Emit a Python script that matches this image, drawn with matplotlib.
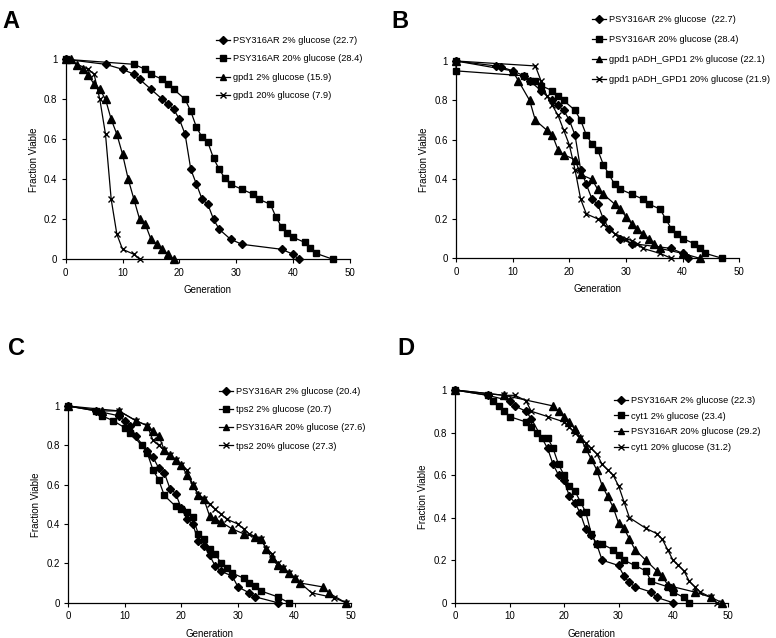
import matplotlib
matplotlib.use("Agg")
import matplotlib.pyplot as plt

plt.rcParams['font.family'] = ['Liberation Sans', 'DejaVu Sans']

W, H = 776, 638

# ---------------- data ----------------
# Panel A
A_wt2_x = [0, 7, 10, 12, 13, 15, 17, 18, 19, 20, 21, 22, 23, 24, 25, 26, 27, 29, 31, 38, 40, 41]
A_wt2_y = [1, 0.975, 0.95, 0.925, 0.90, 0.85, 0.80, 0.775, 0.75, 0.70, 0.625, 0.45, 0.375, 0.30, 0.275, 0.20, 0.15, 0.10, 0.075, 0.05, 0.025, 0]
A_wt20_x = [0, 12, 14, 15, 17, 18, 19, 21, 22, 23, 24, 25, 26, 27, 28, 29, 31, 33, 34, 36, 37, 38, 39, 40, 42, 43, 44, 47]
A_wt20_y = [1, 0.975, 0.95, 0.925, 0.90, 0.875, 0.85, 0.80, 0.74, 0.66, 0.61, 0.585, 0.505, 0.45, 0.405, 0.375, 0.35, 0.325, 0.30, 0.275, 0.21, 0.16, 0.13, 0.11, 0.085, 0.055, 0.03, 0]
A_gpd2_x = [0, 1, 2, 3, 4, 5, 6, 7, 8, 9, 10, 11, 12, 13, 14, 15, 16, 17, 18, 19]
A_gpd2_y = [1, 1, 0.97, 0.95, 0.92, 0.875, 0.85, 0.80, 0.70, 0.625, 0.525, 0.40, 0.30, 0.20, 0.175, 0.10, 0.075, 0.05, 0.025, 0]
A_gpd20_x = [0, 4, 5, 6, 7, 8, 9, 10, 12, 13]
A_gpd20_y = [1, 0.95, 0.925, 0.80, 0.625, 0.30, 0.125, 0.05, 0.025, 0]
A_labels = ["PSY316AR 2% glucose (22.7)", "PSY316AR 20% glucose (28.4)",
            "gpd1 2% glucose (15.9)", "gpd1 20% glucose (7.9)"]

# Panel B
B_wt2_x = [0, 7, 8, 10, 12, 13, 15, 17, 18, 19, 20, 21, 22, 23, 24, 25, 26, 27, 29, 31, 38, 40, 41]
B_wt2_y = [1, 0.975, 0.97, 0.95, 0.925, 0.90, 0.85, 0.80, 0.775, 0.75, 0.70, 0.625, 0.45, 0.375, 0.30, 0.275, 0.20, 0.15, 0.10, 0.075, 0.05, 0.025, 0]
B_wt20_x = [0, 0, 12, 13, 14, 15, 17, 18, 19, 21, 22, 23, 24, 25, 26, 27, 28, 29, 31, 33, 34, 36, 37, 38, 39, 40, 42, 43, 44, 47]
B_wt20_y = [1, 0.95, 0.925, 0.90, 0.90, 0.875, 0.85, 0.825, 0.80, 0.75, 0.70, 0.625, 0.58, 0.55, 0.475, 0.425, 0.375, 0.35, 0.325, 0.30, 0.275, 0.25, 0.20, 0.15, 0.125, 0.10, 0.075, 0.05, 0.025, 0]
B_res2_x = [0, 10, 11, 13, 14, 16, 17, 18, 19, 21, 22, 24, 25, 26, 28, 29, 30, 31, 32, 33, 34, 35, 36, 40, 43]
B_res2_y = [1, 0.95, 0.90, 0.80, 0.70, 0.65, 0.625, 0.55, 0.525, 0.50, 0.425, 0.40, 0.35, 0.325, 0.275, 0.25, 0.21, 0.175, 0.15, 0.125, 0.10, 0.075, 0.05, 0.025, 0]
B_res20_x = [0, 14, 15, 16, 17, 18, 19, 20, 21, 22, 23, 25, 26, 28, 30, 31, 32, 33, 36, 38]
B_res20_y = [1, 0.975, 0.90, 0.825, 0.775, 0.725, 0.65, 0.575, 0.45, 0.30, 0.225, 0.20, 0.175, 0.125, 0.10, 0.09, 0.075, 0.05, 0.025, 0]
B_labels = ["PSY316AR 2% glucose  (22.7)", "PSY316AR 20% glucose (28.4)",
            "gpd1 pADH_GPD1 2% glucose (22.1)", "gpd1 pADH_GPD1 20% glucose (21.9)"]

# Panel C
C_wt2_x = [0, 5, 9, 10, 11, 12, 14, 15, 16, 17, 18, 19, 20, 21, 22, 23, 24, 25, 26, 27, 29, 30, 32, 33, 37]
C_wt2_y = [1, 0.975, 0.95, 0.925, 0.90, 0.845, 0.77, 0.74, 0.685, 0.66, 0.58, 0.555, 0.48, 0.425, 0.40, 0.315, 0.29, 0.24, 0.185, 0.16, 0.135, 0.08, 0.05, 0.03, 0]
C_tps2_x = [0, 5, 6, 8, 10, 11, 13, 14, 15, 16, 17, 19, 20, 21, 22, 23, 24, 25, 26, 27, 28, 29, 31, 32, 33, 34, 37, 39]
C_tps2_y = [1, 0.975, 0.95, 0.925, 0.89, 0.865, 0.80, 0.76, 0.675, 0.625, 0.545, 0.49, 0.475, 0.46, 0.435, 0.35, 0.325, 0.275, 0.25, 0.20, 0.175, 0.15, 0.125, 0.10, 0.085, 0.06, 0.03, 0]
C_wt20_x = [0, 6, 9, 12, 14, 15, 16, 17, 18, 19, 20, 21, 22, 23, 24, 25, 26, 27, 29, 31, 33, 34, 35, 36, 37, 38, 39, 40, 41, 45, 46, 49]
C_wt20_y = [1, 0.975, 0.975, 0.925, 0.90, 0.875, 0.85, 0.775, 0.75, 0.725, 0.70, 0.65, 0.60, 0.55, 0.525, 0.44, 0.425, 0.41, 0.375, 0.35, 0.335, 0.325, 0.275, 0.225, 0.19, 0.175, 0.15, 0.125, 0.10, 0.08, 0.05, 0]
C_tps20_x = [0, 9, 12, 14, 15, 16, 17, 18, 19, 20, 21, 22, 23, 24, 25, 26, 27, 28, 30, 31, 32, 34, 35, 36, 37, 38, 39, 40, 41, 43, 47, 49]
C_tps20_y = [1, 0.975, 0.925, 0.90, 0.825, 0.80, 0.775, 0.75, 0.725, 0.70, 0.675, 0.60, 0.55, 0.525, 0.50, 0.475, 0.45, 0.425, 0.40, 0.375, 0.35, 0.325, 0.275, 0.25, 0.20, 0.175, 0.15, 0.125, 0.10, 0.05, 0.025, 0]
C_labels = ["PSY316AR 2% glucose (20.4)", "tps2 2% glucose (20.7)",
            "PSY316AR 20% glucose (27.6)", "tps2 20% glucose (27.3)"]

# Panel D
D_wt2_x = [0, 6, 10, 11, 13, 14, 17, 18, 19, 20, 21, 22, 23, 24, 25, 26, 27, 30, 31, 32, 33, 36, 37, 40]
D_wt2_y = [1, 0.975, 0.95, 0.925, 0.90, 0.865, 0.725, 0.65, 0.60, 0.575, 0.50, 0.47, 0.42, 0.345, 0.32, 0.275, 0.20, 0.175, 0.125, 0.095, 0.075, 0.05, 0.025, 0]
D_cyt2_x = [0, 6, 7, 8, 9, 10, 13, 14, 15, 16, 17, 18, 19, 20, 21, 22, 23, 24, 25, 26, 27, 29, 30, 31, 33, 35, 36, 39, 40, 42, 43]
D_cyt2_y = [1, 0.975, 0.95, 0.925, 0.90, 0.875, 0.85, 0.825, 0.80, 0.775, 0.775, 0.725, 0.65, 0.60, 0.55, 0.525, 0.475, 0.425, 0.325, 0.275, 0.275, 0.25, 0.225, 0.20, 0.175, 0.15, 0.10, 0.075, 0.05, 0.025, 0]
D_wt20_x = [0, 9, 18, 19, 20, 21, 22, 23, 24, 25, 26, 27, 28, 29, 30, 31, 32, 33, 35, 37, 38, 39, 40, 44, 47, 49]
D_wt20_y = [1, 0.975, 0.925, 0.90, 0.875, 0.85, 0.815, 0.775, 0.725, 0.675, 0.625, 0.55, 0.50, 0.45, 0.375, 0.35, 0.30, 0.25, 0.20, 0.15, 0.125, 0.085, 0.075, 0.05, 0.025, 0]
D_cyt20_x = [0, 9, 11, 13, 14, 17, 20, 21, 22, 23, 24, 25, 26, 27, 28, 29, 30, 31, 32, 35, 37, 38, 39, 40, 41, 42, 43, 44, 45, 47, 48]
D_cyt20_y = [1, 0.975, 0.975, 0.95, 0.90, 0.875, 0.85, 0.825, 0.80, 0.775, 0.75, 0.725, 0.70, 0.65, 0.625, 0.60, 0.55, 0.475, 0.40, 0.35, 0.325, 0.30, 0.25, 0.20, 0.175, 0.15, 0.10, 0.075, 0.05, 0.025, 0]
D_labels = ["PSY316AR 2% glucose (22.3)", "cyt1 2% glucose (23.4)",
            "PSY316AR 20% glucose (29.2)", "cyt1 20% glucose (31.2)"]

x_ticks = [0, 10, 20, 30, 40, 50]
y_ticks = [0, 0.2, 0.4, 0.6, 0.8, 1]
y_ticklabels = ["0", "0.2", "0.4", "0.6", "0.8", "1"]

# ---------------- figure ----------------
fig = plt.figure(figsize=(W / 100, H / 100), dpi=100)
fig.patch.set_facecolor('white')

FS = 7
LFS = 6.7

def px_axes(left, right, top, bottom):
    return fig.add_axes([left / W, 1 - bottom / H, (right - left) / W, (bottom - top) / H])

STYLES = {
    'D': dict(marker='D', markersize=4.0),
    's': dict(marker='s', markersize=4.6),
    '^': dict(marker='^', markersize=5.2),
    'x': dict(marker='x', markersize=5.0, markeredgewidth=1.0),
}

def panel(ax, series, labels, marker_order, leg_anchor, spacing, letter, letter_pos):
    for (xs, ys), m, lab in zip(series, marker_order, labels):
        ax.plot(xs, ys, color='black', linewidth=0.9, label=lab,
                markerfacecolor='black', markeredgecolor='black', clip_on=False,
                **STYLES[m])
    ax.set_xlim(0, 50)
    ax.set_ylim(0, 1)
    ax.set_xticks(x_ticks)
    ax.set_yticks(y_ticks)
    ax.set_yticklabels(y_ticklabels)
    for s in ['top', 'right']:
        ax.spines[s].set_visible(False)
    for s in ['left', 'bottom']:
        ax.spines[s].set_linewidth(0.9)
    ax.tick_params(direction='out', length=3, width=0.8, labelsize=FS, pad=3)
    ax.set_xlabel("Generation", fontsize=FS)
    ax.set_ylabel("Fraction Viable", fontsize=FS)
    bb = ax.get_position()
    wpx = bb.width * W
    hpx = bb.height * H
    ax.yaxis.set_label_coords(-27 / wpx, 0.5)
    ax.xaxis.set_label_coords(0.5, -26 / hpx)
    ax.legend(loc='upper left', bbox_to_anchor=(leg_anchor[0] / W, 1 - leg_anchor[1] / H),
              bbox_transform=fig.transFigure, frameon=False, fontsize=LFS,
              handlelength=1.55, handletextpad=0.25, borderpad=0, borderaxespad=0,
              labelspacing=spacing, markerscale=0.9)
    fig.text(letter_pos[0] / W, 1 - letter_pos[1] / H, letter, fontsize=17,
             fontweight='bold', ha='left', va='baseline')

axA = px_axes(65.7, 350.0, 59.3, 259.3)
panel(axA, [(A_wt2_x, A_wt2_y), (A_wt20_x, A_wt20_y), (A_gpd2_x, A_gpd2_y), (A_gpd20_x, A_gpd20_y)],
      A_labels, ['D', 's', '^', 'x'], (216, 36), 1.01, "A", (2, 28))

axB = px_axes(456.0, 739.3, 61.0, 258.3)
panel(axB, [(B_wt2_x, B_wt2_y), (B_wt20_x, B_wt20_y), (B_res2_x, B_res2_y), (B_res20_x, B_res20_y)],
      B_labels, ['D', 's', '^', 'x'], (592, 15), 1.18, "B", (391, 28))

axC = px_axes(68.0, 351.3, 406.0, 602.7)
panel(axC, [(C_wt2_x, C_wt2_y), (C_tps2_x, C_tps2_y), (C_wt20_x, C_wt20_y), (C_tps20_x, C_tps20_y)],
      C_labels, ['D', 's', '^', 'x'], (219, 387), 0.99, "C", (8, 355))

axD = px_axes(455.0, 727.5, 390.0, 602.7)
panel(axD, [(D_wt2_x, D_wt2_y), (D_cyt2_x, D_cyt2_y), (D_wt20_x, D_wt20_y), (D_cyt20_x, D_cyt20_y)],
      D_labels, ['D', 's', '^', 'x'], (614, 396), 0.71, "D", (397, 355))

fig.savefig("out.png", dpi=100, facecolor='white')
